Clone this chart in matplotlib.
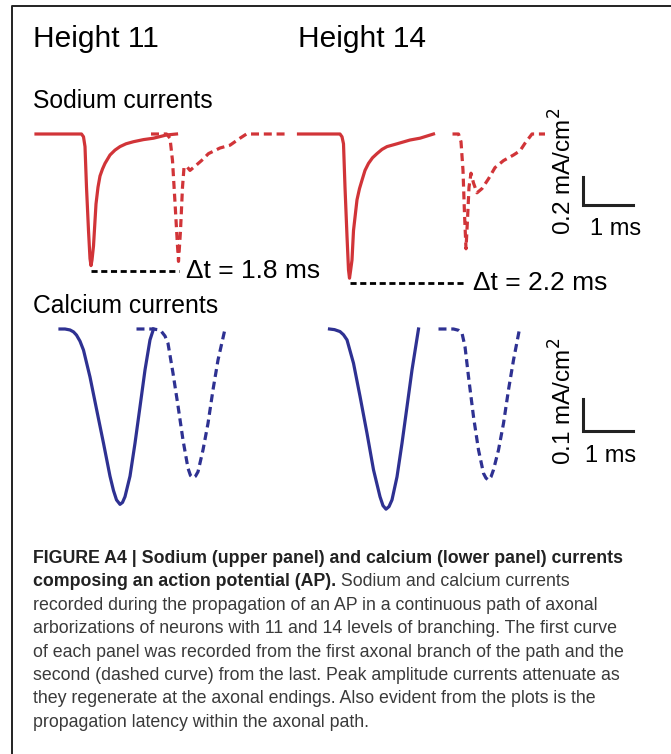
import matplotlib
matplotlib.use("Agg")
import matplotlib.pyplot as plt

plt.rcParams['font.family'] = ['Liberation Sans', 'DejaVu Sans']

# ---- data: time (ms from trace onset) and current (mA/cm^2) ----
na_h11_first_t = [0, 0.91, 0.95, 0.98, 1.01, 1.05, 1.08, 1.10, 1.12, 1.15, 1.20, 1.24, 1.28, 1.33, 1.38, 1.48, 1.58, 1.68, 1.80, 1.95, 2.15, 2.35, 2.61, 2.81]
na_h11_first_i = [0, 0, -0.02, -0.09, -0.38, -0.69, -0.89, -0.94, -0.90, -0.80, -0.50, -0.38, -0.30, -0.25, -0.21, -0.15, -0.115, -0.09, -0.07, -0.055, -0.04, -0.03, -0.007, 0]
na_h11_last_t = [0, 0.31, 0.38, 0.43, 0.48, 0.53, 0.55, 0.59, 0.63, 0.66, 0.71, 0.78, 0.88, 1.01, 1.15, 1.38, 1.58, 1.78, 1.91, 2.68]
na_h11_last_i = [0, 0, -0.03, -0.19, -0.49, -0.80, -0.91, -0.69, -0.38, -0.24, -0.23, -0.26, -0.23, -0.19, -0.14, -0.10, -0.08, -0.03, 0, 0]

na_h14_first_t = [0, 0.83, 0.87, 0.90, 0.93, 0.97, 1.00, 1.02, 1.04, 1.07, 1.10, 1.17, 1.22, 1.27, 1.33, 1.40, 1.48, 1.57, 1.67, 1.77, 1.97, 2.23, 2.43, 2.70]
na_h14_first_i = [0, 0, -0.02, -0.07, -0.38, -0.73, -0.97, -1.03, -0.98, -0.90, -0.69, -0.47, -0.39, -0.33, -0.26, -0.21, -0.17, -0.14, -0.11, -0.09, -0.07, -0.043, -0.03, 0]
na_h14_last_t = [0, 0.12, 0.17, 0.21, 0.24, 0.27, 0.30, 0.33, 0.37, 0.42, 0.49, 0.59, 0.72, 0.85, 1.02, 1.22, 1.35, 1.45, 1.59, 1.85]
na_h14_last_i = [0, 0, -0.055, -0.26, -0.57, -0.82, -0.61, -0.38, -0.28, -0.35, -0.42, -0.39, -0.32, -0.24, -0.19, -0.15, -0.12, -0.066, 0, 0]

ca_h11_first_t = [0, 0.1, 0.2, 0.27, 0.33, 0.40, 0.47, 0.6, 0.73, 0.87, 1.0, 1.07, 1.13, 1.2, 1.25, 1.3, 1.4, 1.5, 1.6, 1.7, 1.8, 1.87]
ca_h11_first_i = [0, 0, -0.003, -0.009, -0.019, -0.038, -0.066, -0.15, -0.25, -0.357, -0.46, -0.505, -0.534, -0.548, -0.542, -0.524, -0.46, -0.357, -0.243, -0.128, -0.034, 0]
ca_h11_last_t = [0, 0.33, 0.42, 0.5, 0.57, 0.63, 0.73, 0.83, 0.93, 1.03, 1.08, 1.13, 1.18, 1.23, 1.33, 1.43, 1.53, 1.63, 1.77]
ca_h11_last_i = [0, 0, -0.002, -0.008, -0.022, -0.045, -0.138, -0.24, -0.347, -0.435, -0.458, -0.465, -0.46, -0.446, -0.378, -0.295, -0.19, -0.097, 0]

ca_h14_first_t = [0, 0.1, 0.21, 0.28, 0.35, 0.48, 0.61, 0.75, 0.88, 1.01, 1.07, 1.13, 1.19, 1.25, 1.35, 1.45, 1.55, 1.65, 1.78]
ca_h14_first_i = [0, -0.002, -0.008, -0.018, -0.034, -0.107, -0.21, -0.326, -0.44, -0.524, -0.552, -0.563, -0.555, -0.534, -0.462, -0.357, -0.243, -0.128, 0]
ca_h14_last_t = [0, 0.3, 0.4, 0.47, 0.53, 0.6, 0.7, 0.8, 0.9, 0.95, 1.0, 1.05, 1.1, 1.2, 1.3, 1.4, 1.5, 1.62]
ca_h14_last_i = [0, 0, -0.004, -0.013, -0.055, -0.149, -0.274, -0.378, -0.451, -0.466, -0.472, -0.462, -0.44, -0.378, -0.295, -0.19, -0.097, 0]

heights = ["Height 11", "Height 14"]
latencies = [1.8, 2.2]          # ms
na_scale = (1, 0.2)             # ms, mA/cm^2
ca_scale = (1, 0.1)

caption_bold = ["FIGURE A4 | Sodium (upper panel) and calcium (lower panel) currents",
                "composing an action potential (AP)."]
caption_rest = [" Sodium and calcium currents",
                "recorded during the propagation of an AP in a continuous path of axonal",
                "arborizations of neurons with 11 and 14 levels of branching. The first curve",
                "of each panel was recorded from the first axonal branch of the path and the",
                "second (dashed curve) from the last. Peak amplitude currents attenuate as",
                "they regenerate at the axonal endings. Also evident from the plots is the",
                "propagation latency within the axonal path."]

RED = '#d13438'
BLUE = '#2e3192'
W, H = 671, 754
PX_MS = 50.0   # pixels per ms

fig = plt.figure(figsize=(W / 100, H / 100), dpi=100)
bg = fig.add_axes([0, 0, 1, 1])
bg.set_xlim(0, W)
bg.set_ylim(H, 0)
bg.axis('off')

# frame (left + top)
bg.plot([12, 12, W], [H, 6, 6], color='#222222', lw=1.4, solid_capstyle='butt')


def row_axes(top_px, bot_px, base_px, px_per_unit):
    ax = fig.add_axes([0, 1 - bot_px / H, 1, (bot_px - top_px) / H])
    ax.set_xlim(0, W / PX_MS)
    ax.set_ylim(-(bot_px - base_px) / px_per_unit, (base_px - top_px) / px_per_unit)
    ax.axis('off')
    ax.patch.set_alpha(0)
    return ax


lw = 2.3
dash = (0, (2.5, 1.5))

# sodium row
na = row_axes(100, 300, 134, 140.0)
na_traces = [(na_h11_first_t, na_h11_first_i, 0.72, '-'),
             (na_h11_last_t, na_h11_last_i, 3.02, dash),
             (na_h14_first_t, na_h14_first_i, 5.97, '-'),
             (na_h14_last_t, na_h14_last_i, 9.05, dash)]
for t, i, x0, ls in na_traces:
    na.plot([x0 + v for v in t], i, color=RED, lw=lw, ls=ls, solid_joinstyle='round')

# latency markers: from peak of first trace to peak of last trace
for k, dt in enumerate(latencies):
    t1, i1, x1, _ = na_traces[2 * k]
    t2, i2, x2, _ = na_traces[2 * k + 1]
    p1 = x1 + t1[i1.index(min(i1))]
    p2 = x2 + t2[i2.index(min(i2))]
    yl = min(i1) - 0.035
    na.plot([p1, p2], [yl, yl], color='black', lw=2.0, ls=(0, (2.2, 1.3)))
    na.text(p2 + 0.14, yl, "\u0394t = %.1f ms" % dt, fontsize=19, va='center', ha='left')

# sodium scale bar
sx, sy = 11.66, -0.507
na.plot([sx, sx, sx + na_scale[0]], [sy + na_scale[1], sy, sy], color='#222222', lw=2.2,
        solid_joinstyle='miter')
na.text(12.32, sy - 0.09, "%g ms" % na_scale[0], fontsize=17, ha='center', va='top')
na.text(11.44, -0.721, "%g mA/cm$^2$" % na_scale[1], fontsize=17.5, rotation=90,
        ha='left', va='baseline', rotation_mode='anchor')

# calcium row
ca = row_axes(310, 520, 329, 320.0)
ca_traces = [(ca_h11_first_t, ca_h11_first_i, 1.2, '-'),
             (ca_h11_last_t, ca_h11_last_i, 2.73, dash),
             (ca_h14_first_t, ca_h14_first_i, 6.59, '-'),
             (ca_h14_last_t, ca_h14_last_i, 8.77, dash)]
for t, i, x0, ls in ca_traces:
    ca.plot([x0 + v for v in t], i, color=BLUE, lw=lw, ls=ls, solid_joinstyle='round')

cx, cy = 11.66, -0.319
ca.plot([cx, cx, cx + ca_scale[0]], [cy + ca_scale[1], cy, cy], color='#222222', lw=2.2,
        solid_joinstyle='miter')
ca.text(12.22, cy - 0.045, "%g ms" % ca_scale[0], fontsize=17, ha='center', va='top')
ca.text(11.44, -0.425, "%g mA/cm$^2$" % ca_scale[1], fontsize=17.5, rotation=90,
        ha='left', va='baseline', rotation_mode='anchor')

# headings
bg.text(33, 47, heights[0], fontsize=21.5, va='baseline')
bg.text(298, 47, heights[1], fontsize=21.5, va='baseline')
bg.text(33, 108, "Sodium currents", fontsize=17.8, va='baseline')
bg.text(33, 313, "Calcium currents", fontsize=17.8, va='baseline')

# caption
cap_fs = 12.8
y0, dy = 563, 23.4
bg.text(33, y0, caption_bold[0], fontsize=cap_fs, fontweight='bold', color='#222222',
        va='baseline')
tb = bg.text(33, y0 + dy, caption_bold[1], fontsize=cap_fs, fontweight='bold', color='#222222',
             va='baseline')
fig.canvas.draw()
bb = tb.get_window_extent(fig.canvas.get_renderer())
xend = bg.transData.inverted().transform((bb.x1, bb.y0))[0]
bg.text(xend, y0 + dy, caption_rest[0], fontsize=cap_fs, color='#3a3a3a', va='baseline')
for k, line in enumerate(caption_rest[1:]):
    bg.text(33, y0 + dy * (k + 2), line, fontsize=cap_fs, color='#3a3a3a', va='baseline')

fig.savefig('out.png', dpi=100)
